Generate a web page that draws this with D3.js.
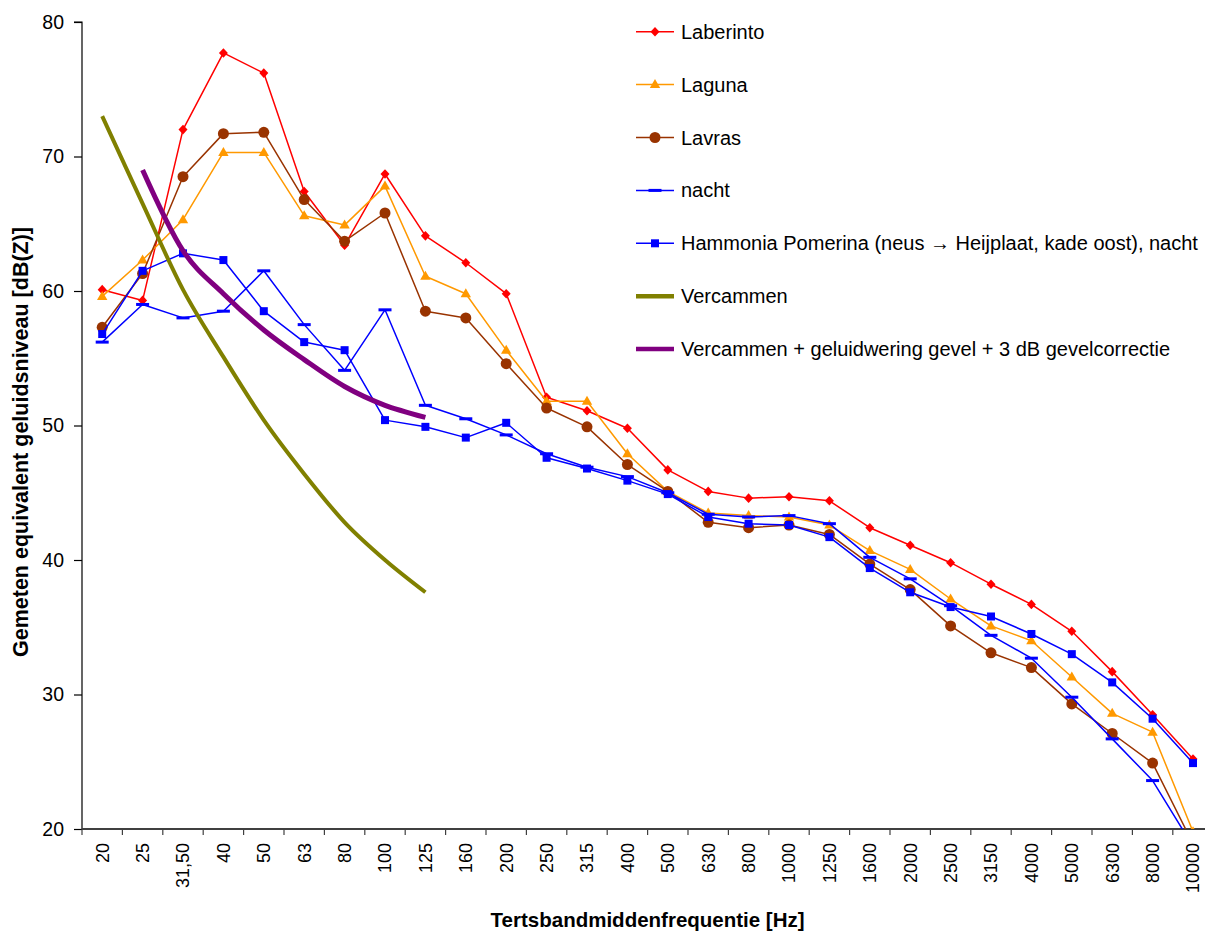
<!DOCTYPE html>
<html>
<head>
<meta charset="utf-8">
<script src="https://cdn.jsdelivr.net/npm/d3@7"></script>
<style>
  html, body { margin: 0; padding: 0; background: #fff; }
  svg { display: block; font-family: "Liberation Sans", Arial, sans-serif; }
</style>
</head>
<body>
<svg id="chart" width="1205" height="932"></svg>
<script>
// ---------- data ----------
const categories = ["20","25","31,50","40","50","63","80","100","125","160","200","250","315","400","500","630","800","1000","1250","1600","2000","2500","3150","4000","5000","6300","8000","10000"];
const yTicks = [20, 30, 40, 50, 60, 70, 80];

const laberinto = [60.1, 59.3, 72.0, 77.7, 76.2, 67.4, 63.4, 68.7, 64.1, 62.1, 59.8, 52.1, 51.1, 49.8, 46.7, 45.1, 44.6, 44.7, 44.4, 42.4, 41.1, 39.8, 38.2, 36.7, 34.7, 31.7, 28.5, 25.2];
const laguna    = [59.6, 62.3, 65.3, 70.3, 70.3, 65.6, 64.9, 67.8, 61.1, 59.8, 55.6, 51.8, 51.8, 47.9, 45.1, 43.5, 43.3, 43.2, 42.6, 40.7, 39.3, 37.1, 35.1, 34.0, 31.3, 28.6, 27.2, 19.8];
const lavras    = [57.3, 61.3, 68.5, 71.7, 71.8, 66.8, 63.7, 65.8, 58.5, 58.0, 54.6, 51.3, 49.9, 47.1, 45.1, 42.8, 42.4, 42.6, 41.9, 39.7, 37.8, 35.1, 33.1, 32.0, 29.3, 27.1, 24.9, 18.9];
const nacht     = [56.2, 59.0, 58.0, 58.5, 61.5, 57.5, 54.1, 58.6, 51.5, 50.5, 49.3, 47.9, 46.9, 46.2, 45.0, 43.4, 43.2, 43.3, 42.7, 40.2, 38.6, 36.6, 34.4, 32.7, 29.8, 26.7, 23.6, 18.7];
const hammonia  = [56.8, 61.5, 62.8, 62.3, 58.5, 56.2, 55.6, 50.4, 49.9, 49.1, 50.2, 47.6, 46.8, 45.9, 44.9, 43.2, 42.7, 42.6, 41.7, 39.4, 37.6, 36.5, 35.8, 34.5, 33.0, 30.9, 28.2, 24.9];
const vercammen = [73.0, 66.5, 60.1, 55.1, 50.4, 46.4, 42.8, 40.0, 37.6];
const vercammenGevel = [null, 69.0, 63.0, 59.8, 57.1, 54.9, 52.9, 51.5, 50.6];

const seriesNames = ["Laberinto", "Laguna", "Lavras", "nacht",
  "Hammonia Pomerina (neus \u2192 Heijplaat, kade oost), nacht",
  "Vercammen", "Vercammen + geluidwering gevel + 3 dB gevelcorrectie"];

// ---------- styles ----------
const series = [
  {name: seriesNames[0], values: laberinto, color: "#FF0000", width: 1.5, marker: "diamond", smooth: false},
  {name: seriesNames[1], values: laguna, color: "#FF9900", width: 1.5, marker: "triangle", smooth: false},
  {name: seriesNames[2], values: lavras, color: "#993300", width: 1.5, marker: "circle", smooth: false},
  {name: seriesNames[3], values: nacht, color: "#0000FF", width: 1.5, marker: "dash", smooth: false},
  {name: seriesNames[4], values: hammonia, color: "#0000FF", width: 1.5, marker: "square", smooth: false},
  {name: seriesNames[5], values: vercammen, color: "#808000", width: 4, marker: null, smooth: true},
  {name: seriesNames[6], values: vercammenGevel, color: "#800080", width: 5, marker: null, smooth: true}
];

const svg = d3.select("#chart");
const plotLeft = 82, plotTop = 22, plotBottom = 829;
const band = 40.4;
const plotRight = plotLeft + band * categories.length;

const x = d3.scaleBand().domain(categories).range([plotLeft, plotRight]).padding(0);
const y = d3.scaleLinear().domain([20, 80]).range([plotBottom, plotTop]);
const cx = c => x(c) + x.bandwidth() / 2;

svg.append("defs").append("clipPath").attr("id", "plotclip")
  .append("rect").attr("x", plotLeft).attr("y", 0)
  .attr("width", plotRight - plotLeft).attr("height", plotBottom);

// ---------- axes ----------
const yAxis = d3.axisLeft(y).tickValues(yTicks).tickSize(8).tickPadding(10).tickFormat(d3.format("d"));
const gy = svg.append("g").attr("transform", `translate(${plotLeft},0)`).call(yAxis);
gy.select(".domain").attr("stroke", "#000").attr("stroke-width", 1.2).attr("d", `M-8,${plotTop}H0V${plotBottom}`);
gy.selectAll(".tick line").attr("stroke", "#000").attr("stroke-width", 1.2);
gy.selectAll(".tick text").attr("font-size", "19.5px").attr("fill", "#000")
  .attr("font-family", "Liberation Sans, Arial, sans-serif");

// x axis: ticks at category boundaries
const gx = svg.append("g").attr("transform", `translate(0,${plotBottom})`);
gx.append("line").attr("x1", plotLeft).attr("x2", plotRight).attr("y1", 0).attr("y2", 0)
  .attr("stroke", "#404040").attr("stroke-width", 1.8);
const boundaries = categories.map(c => x(c)).concat([plotRight]);
gx.selectAll("line.tk").data(boundaries).enter().append("line").attr("class", "tk")
  .attr("x1", d => d).attr("x2", d => d).attr("y1", 0).attr("y2", 6)
  .attr("stroke", "#404040").attr("stroke-width", 1.2);
gx.selectAll("text.lbl").data(categories).enter().append("text").attr("class", "lbl")
  .attr("transform", d => `translate(${cx(d)},${843 - plotBottom}) rotate(-90)`)
  .attr("text-anchor", "end").attr("dy", "0.35em")
  .attr("font-size", "18px").attr("fill", "#000").text(d => d);

// ---------- titles ----------
svg.append("text").attr("x", (plotLeft + plotRight) / 2).attr("y", 927)
  .attr("text-anchor", "middle").attr("font-weight", "bold").attr("font-size", "20.5px")
  .text("Tertsbandmiddenfrequentie [Hz]");
svg.append("text").attr("transform", "translate(27.5,442) rotate(-90)")
  .attr("text-anchor", "middle").attr("font-weight", "bold").attr("font-size", "21.5px")
  .text("Gemeten equivalent geluidsniveau [dB(Z)]");

// ---------- markers ----------
function drawMarker(g, type, color, px, py) {
  if (type === "diamond") {
    g.append("path").attr("d", `M${px},${py-4.8}L${px+4.5},${py}L${px},${py+4.8}L${px-4.5},${py}Z`).attr("fill", color);
  } else if (type === "triangle") {
    g.append("path").attr("d", `M${px},${py-5.5}L${px+5.2},${py+3.5}L${px-5.2},${py+3.5}Z`).attr("fill", color);
  } else if (type === "circle") {
    g.append("circle").attr("cx", px).attr("cy", py).attr("r", 5.5).attr("fill", color);
  } else if (type === "square") {
    g.append("rect").attr("x", px - 4).attr("y", py - 4).attr("width", 8).attr("height", 8).attr("fill", color);
  } else if (type === "dash") {
    g.append("rect").attr("x", px - 6.5).attr("y", py - 1.5).attr("width", 13).attr("height", 3).attr("fill", color);
  }
}

// ---------- series ----------
const plot = svg.append("g").attr("clip-path", "url(#plotclip)");
series.forEach(s => {
  const pts = s.values.map((v, i) => ({c: categories[i], v})).filter(p => p.v !== null && p.v !== undefined);
  const line = d3.line().x(p => cx(p.c)).y(p => y(p.v))
    .curve(s.smooth ? d3.curveCardinal.tension(0) : d3.curveLinear);
  const g = plot.append("g");
  g.append("path").datum(pts).attr("d", line).attr("fill", "none")
    .attr("stroke", s.color).attr("stroke-width", s.width).attr("stroke-linejoin", "round");
  if (s.marker) pts.forEach(p => drawMarker(g, s.marker, s.color, cx(p.c), y(p.v)));
});

// ---------- legend ----------
const legendY0 = 31.7, legendStep = 52.9;
const lg = svg.append("g");
series.forEach((s, i) => {
  const ly = legendY0 + i * legendStep;
  lg.append("line").attr("x1", 636).attr("x2", 674).attr("y1", ly).attr("y2", ly)
    .attr("stroke", s.color).attr("stroke-width", s.smooth ? 4.5 : 1.5);
  if (s.marker) drawMarker(lg, s.marker, s.color, 655, ly);
  lg.append("text").attr("x", 681).attr("y", ly).attr("dy", "0.35em")
    .attr("font-size", "20px").attr("fill", "#000").text(s.name);
});
</script>
</body>
</html>
